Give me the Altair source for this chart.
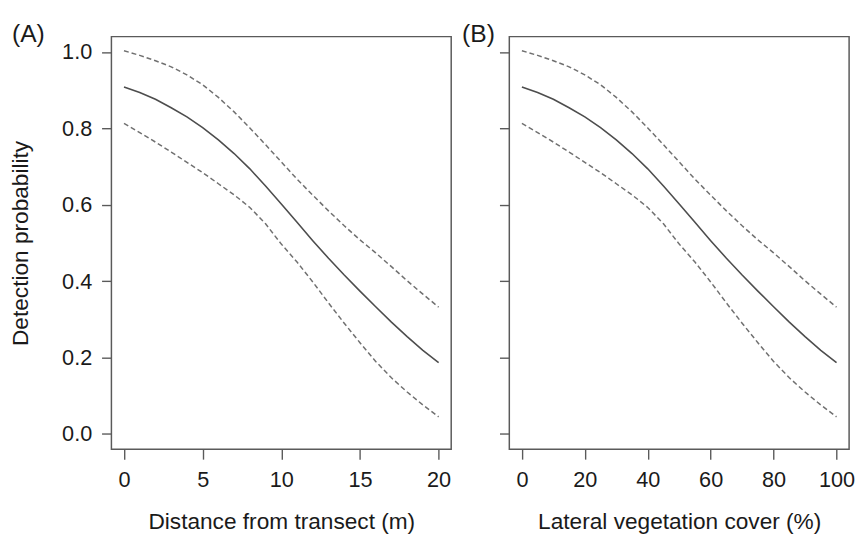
import altair as alt
import pandas as pd

# x values of the two panels
dist_m = list(range(0, 21))            # Distance from transect (m)
cover_pct = list(range(0, 101, 5))     # Lateral vegetation cover (%)

# Detection probability (same curve shape in both panels)
p_fit = [0.908, 0.894, 0.876, 0.854, 0.830, 0.802, 0.770, 0.734, 0.694, 0.649, 0.602,
         0.554, 0.506, 0.460, 0.416, 0.374, 0.333, 0.293, 0.255, 0.219, 0.187]
p_upper = [1.003, 0.991, 0.977, 0.961, 0.940, 0.914, 0.881, 0.843, 0.801, 0.757, 0.712,
           0.667, 0.625, 0.584, 0.545, 0.508, 0.474, 0.438, 0.401, 0.366, 0.332]
p_lower = [0.813, 0.789, 0.764, 0.738, 0.711, 0.684, 0.655, 0.626, 0.593, 0.550, 0.497,
           0.450, 0.398, 0.343, 0.290, 0.239, 0.190, 0.147, 0.110, 0.076, 0.045]

y_ticks = [0.0, 0.2, 0.4, 0.6, 0.8, 1.0]
x_ticks_a = [0, 5, 10, 15, 20]
x_ticks_b = [0, 20, 40, 60, 80, 100]

FONT = "Liberation Sans"
W, H = 345, 419


def panel(xvals, xdom, xticks, xtitle, tag, tag_dx, show_ylab):
    fit = pd.DataFrame({"x": xvals, "p": p_fit})
    band = pd.DataFrame({
        "x": xvals + xvals,
        "p": p_upper + p_lower,
        "s": ["upper"] * len(xvals) + ["lower"] * len(xvals),
    })
    xs = alt.X("x:Q", scale=alt.Scale(domain=xdom, nice=False, zero=False),
               axis=alt.Axis(values=xticks, title=xtitle, format="d"))
    if show_ylab:
        yax = alt.Axis(values=y_ticks, format=".1f", title="Detection probability")
    else:
        yax = alt.Axis(values=y_ticks, labels=False, title=None)
    ys = alt.Y("p:Q", scale=alt.Scale(domain=[-0.04, 1.04], nice=False, zero=False), axis=yax)

    solid = alt.Chart(fit).mark_line(color="#4d4d4d", strokeWidth=1.6).encode(x=xs, y=ys)
    dashed = alt.Chart(band).mark_line(color="#707070", strokeWidth=1.5,
                                        strokeDash=[5, 3]).encode(x=xs, y=ys, detail="s:N")
    label = alt.Chart(pd.DataFrame({"t": [tag]})).mark_text(
        align="left", baseline="alphabetic", font=FONT, fontSize=25, color="#1a1a1a"
    ).encode(text="t:N", x=alt.value(tag_dx), y=alt.value(5))
    return alt.layer(solid, dashed, label).properties(width=W, height=H)


pa = panel(dist_m, [-0.8, 20.8], x_ticks_a, "Distance from transect (m)", "(A)", -101, True)
pb = panel(cover_pct, [-4, 104], x_ticks_b, "Lateral vegetation cover (%)", "(B)", -48, False)

chart = alt.hconcat(pa, pb, spacing=9).properties(
    padding={"left": 0, "top": 9, "right": 0, "bottom": 0}
).configure_view(
    stroke="#5a5a5a", strokeWidth=1.5
).configure_axis(
    domain=False, grid=False, tickColor="#5a5a5a", tickSize=10, tickWidth=1.4,
    labelFont=FONT, labelFontSize=22, labelColor="#1a1a1a",
    titleFont=FONT, titleFontSize=23, titleFontWeight="normal", titleColor="#1a1a1a",
).configure_axisX(
    labelPadding=11, titlePadding=20
).configure_axisY(
    labelPadding=10, titlePadding=30
)

chart.save("out.html", embed_options={"renderer": "svg", "actions": False})
